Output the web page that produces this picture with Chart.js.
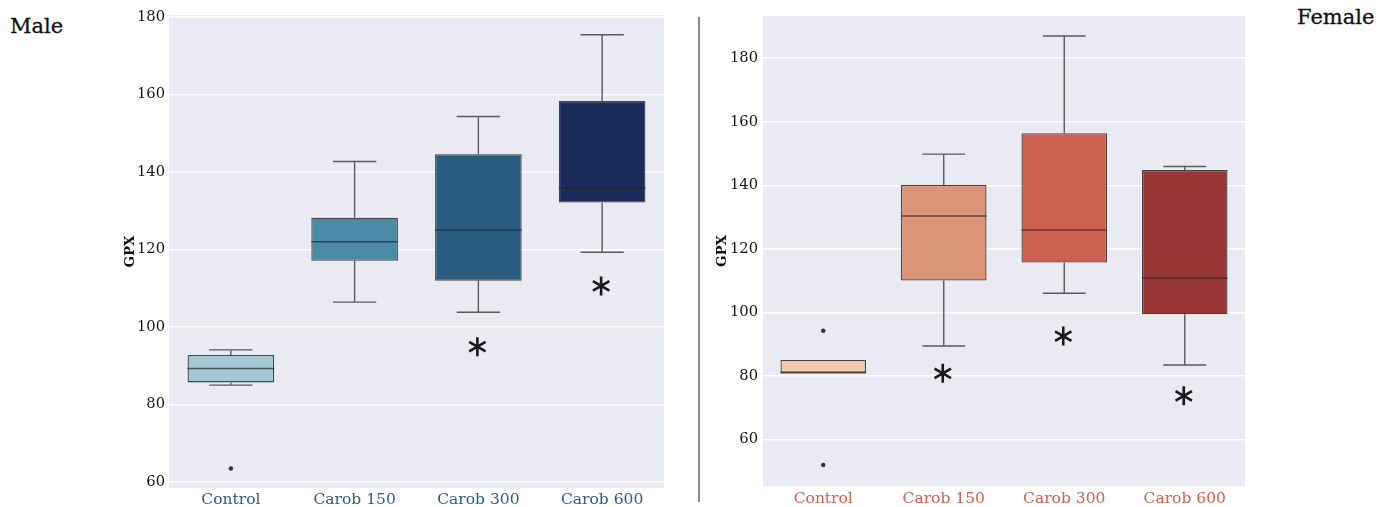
<!DOCTYPE html>
<html>
<head>
<meta charset="utf-8">
<script src="https://cdn.jsdelivr.net/npm/chart.js@4.4.0/dist/chart.umd.min.js"></script>
<style>
  html, body { margin: 0; padding: 0; background: #ffffff; }
  body { width: 1392px; height: 507px; position: relative; overflow: hidden; }
  .wrap { position: absolute; top: 0; height: 507px; }
  #leftWrap { left: 0; width: 690px; }
  #rightWrap { left: 700px; width: 692px; }
  .lbl { position: absolute; font-family: "DejaVu Serif", serif; font-size: 21px; color: #111111; line-height: 22px; white-space: nowrap; -webkit-text-stroke: 0.3px #111111; }
  #divider { position: absolute; left: 698px; top: 17px; width: 2px; height: 485px; background: #8c8c8c; }
</style>
</head>
<body>
<div class="lbl" style="left:10px; top:15px;">Male</div>
<div class="lbl" style="left:1297px; top:6px;">Female</div>
<div id="divider"></div>
<div class="wrap" id="leftWrap"><canvas id="male" width="690" height="507"></canvas></div>
<div class="wrap" id="rightWrap"><canvas id="female" width="692" height="507"></canvas></div>
<script>
// ---------- data ----------
const categories = ['Control', 'Carob 150', 'Carob 300', 'Carob 600'];

const maleMin    = [85.0, 106.4, 103.8, 119.3];
const maleQ1     = [85.7, 117.1, 111.9, 132.1];
const maleMedian = [89.3, 122.0, 125.0, 135.8];
const maleQ3     = [92.8, 128.2, 144.6, 158.3];
const maleMax    = [94.1, 142.7, 154.3, 175.4];
const maleOutliers = [[63.5], [], [], []];
const maleStars  = [null, null, 94.9, 110.6];
const maleTicks  = [60, 80, 100, 120, 140, 160, 180];

const femaleMin    = [81.0, 89.4, 106.0, 83.4];
const femaleQ1     = [81.0, 110.0, 115.7, 99.4];
const femaleMedian = [81.0, 130.3, 125.9, 110.7];
const femaleQ3     = [85.0, 140.1, 156.4, 144.8];
const femaleMax    = [85.0, 149.8, 187.0, 145.9];
const femaleOutliers = [[94.2, 51.9], [], [], []];
const femaleStars  = [null, 80.8, 92.5, 73.7];
const femaleTicks  = [60, 80, 100, 120, 140, 160, 180];

const maleColors   = ['#a3c9d5', '#4a8aa7', '#2a5b80', '#1b2b5c'];
const femaleColors = ['#f5c8b0', '#dd957a', '#cd6151', '#9a3536'];

// ---------- plugins ----------
const plotBg = {
  id: 'plotBg',
  beforeDraw(chart) {
    const a = chart.chartArea, ctx = chart.ctx;
    ctx.save();
    ctx.fillStyle = '#eaeaf2';
    ctx.fillRect(a.left, a.top, a.right - a.left, a.bottom - a.top);
    ctx.restore();
  }
};

function boxExtras(stats) {
  return {
    id: 'boxExtras',
    afterDatasetsDraw(chart) {
      const ctx = chart.ctx;
      const ys = chart.scales.y;
      const meta = chart.getDatasetMeta(0);
      ctx.save();
      categories.forEach((c, i) => {
        const bar = meta.data[i];
        const x = bar.x;
        const w = bar.width;
        const yMin = ys.getPixelForValue(stats.min[i]);
        const yQ1 = ys.getPixelForValue(stats.q1[i]);
        const yQ3 = ys.getPixelForValue(stats.q3[i]);
        const yMax = ys.getPixelForValue(stats.max[i]);
        const yMed = ys.getPixelForValue(stats.median[i]);
        // whiskers
        ctx.strokeStyle = '#5a5a5a';
        ctx.lineWidth = 1.4;
        ctx.beginPath();
        if (yMax < yQ3 - 0.5) {
          ctx.moveTo(x, yQ3); ctx.lineTo(x, yMax);
          ctx.moveTo(x - w / 4, yMax); ctx.lineTo(x + w / 4, yMax);
        }
        if (yMin > yQ1 + 0.5) {
          ctx.moveTo(x, yQ1); ctx.lineTo(x, yMin);
          ctx.moveTo(x - w / 4, yMin); ctx.lineTo(x + w / 4, yMin);
        }
        ctx.stroke();
        // median
        ctx.strokeStyle = 'rgba(35,35,40,0.7)';
        ctx.lineWidth = 1.5;
        ctx.beginPath();
        ctx.moveTo(x - w / 2, yMed); ctx.lineTo(x + w / 2, yMed);
        ctx.stroke();
        // outliers
        ctx.fillStyle = '#333333';
        stats.outliers[i].forEach(v => {
          const yy = ys.getPixelForValue(v);
          ctx.beginPath();
          ctx.arc(x, yy, 2.2, 0, Math.PI * 2);
          ctx.fill();
        });
        // asterisks
        if (stats.stars[i] !== null) {
          const ya = ys.getPixelForValue(stats.stars[i]);
          const r = 9.5;
          ctx.strokeStyle = '#1a1a1a';
          ctx.lineWidth = 2.6;
          ctx.lineCap = 'butt';
          ctx.beginPath();
          for (let k = 0; k < 3; k++) {
            const ang = Math.PI / 2 + k * Math.PI / 3;
            ctx.moveTo(x - 1 + r * Math.cos(ang), ya + r * Math.sin(ang));
            ctx.lineTo(x - 1 - r * Math.cos(ang), ya - r * Math.sin(ang));
          }
          ctx.stroke();
        }
      });
      ctx.restore();
    }
  };
}

function makeChart(id, cfg) {
  const ctx = document.getElementById(id);
  return new Chart(ctx, {
    type: 'bar',
    data: {
      labels: categories,
      datasets: [{
        data: categories.map((c, i) => [cfg.q1[i], cfg.q3[i]]),
        backgroundColor: cfg.colors,
        borderColor: '#444444',
        borderWidth: 1.3,
        borderSkipped: false,
        categoryPercentage: 1.0,
        barPercentage: cfg.barPct
      }]
    },
    options: {
      responsive: false,
      animation: false,
      events: [],
      layout: { padding: cfg.padding },
      plugins: { legend: { display: false }, tooltip: { enabled: false }, title: { display: false } },
      scales: {
        x: {
          grid: { display: false, drawTicks: false },
          border: { display: false },
          ticks: {
            color: cfg.labelColor,
            font: { family: 'DejaVu Serif', size: 15.5 },
            padding: cfg.xPad,
            maxRotation: 0
          },
          afterFit(s) { s.height = cfg.xHeight; }
        },
        y: {
          min: cfg.yMin,
          max: cfg.yMax,
          afterBuildTicks(s) { s.ticks = cfg.ticks.map(v => ({ value: v })); },
          grid: { color: '#ffffff', lineWidth: 1.5, drawTicks: false },
          border: { display: false },
          ticks: {
            color: '#151515',
            font: { family: 'DejaVu Serif', size: 14.7 },
            padding: cfg.yPad
          },
          title: {
            display: true,
            text: 'GPX',
            color: '#111111',
            font: { family: 'DejaVu Serif', size: 13.5, weight: 'bold' },
            padding: 4
          },
          afterFit(s) { s.width = cfg.yWidth; }
        }
      }
    },
    plugins: [plotBg, boxExtras(cfg)]
  });
}

makeChart('male', {
  q1: maleQ1, q3: maleQ3, min: maleMin, max: maleMax, median: maleMedian,
  outliers: maleOutliers, stars: maleStars, ticks: maleTicks,
  colors: maleColors, labelColor: '#2d5e86', barPct: 0.7,
  yMin: 58.45, yMax: 180.5,
  padding: { left: 118, right: 26, top: 15, bottom: 0 },
  yWidth: 51, yPad: 4, xHeight: 19, xPad: 3
});

makeChart('female', {
  q1: femaleQ1, q3: femaleQ3, min: femaleMin, max: femaleMax, median: femaleMedian,
  outliers: femaleOutliers, stars: femaleStars, ticks: femaleTicks,
  colors: femaleColors, labelColor: '#d0604f', barPct: 0.71,
  yMin: 45.3, yMax: 193.3,
  padding: { left: 10, right: 147, top: 16, bottom: 0 },
  yWidth: 53, yPad: 5, xHeight: 21, xPad: 4
});
</script>
</body>
</html>
